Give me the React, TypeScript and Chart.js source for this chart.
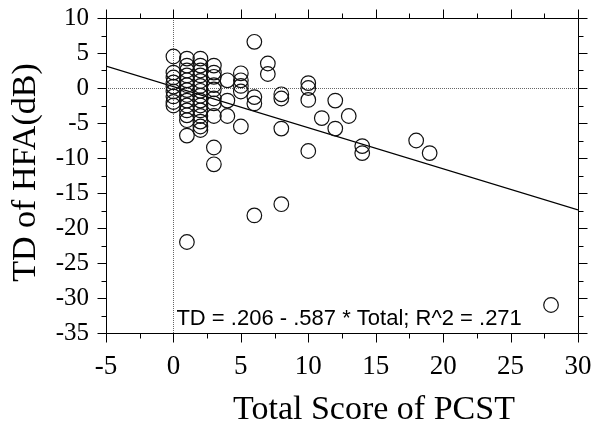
import React, { useEffect, useRef } from "react";
import { Chart, registerables } from "chart.js";

Chart.register(...registerables);

// PCST total score levels and the TD (dB) values observed at each level
const scoreLevels = [0, 1, 2, 3, 4, 5, 6, 7, 8, 10, 11, 12, 13, 14, 18, 19, 28];
const tdAtScore = [
  [4.5, 2.2, 1.5, 0.8, 0.2, -0.5, -1.2, -2, -2.5],
  [4.2, 3.2, 2.5, 1.8, 1.1, 0.4, -0.3, -1, -1.8, -2.5, -3.2, -3.9, -4.6, -6.8, -22],
  [4.2, 3.2, 2.5, 1.8, 1, 0.3, -0.4, -1.1, -1.8, -2.5, -3.2, -4, -4.8, -5.5, -6],
  [3.2, 2.2, 1.6, 0.4, -0.2, -1.5, -2.2, -4, -8.5, -10.9],
  [1.1, -1.8, -4],
  [2.1, 1.1, 0.3, -0.5, -5.5],
  [6.6, -1.3, -2.2, -18.2],
  [3.5, 2],
  [-0.9, -1.5, -5.8, -16.6],
  [0.7, 0, -1.7, -9],
  [-4.3],
  [-1.8, -5.8],
  [-4],
  [-8.3, -9.3],
  [-7.5],
  [-9.3],
  [-31],
];

// regression from the printed equation
const intercept = 0.206;
const slope = -0.587;
const fitRange = [-5, 30];

const xRange = [-5, 30];
const yRange = [-35, 10];
const majorStep = 5;
const minorStep = 2.5;

const equationText = "TD = .206 - .587 * Total; R^2 = .271";
const xTitle = "Total Score of PCST";
const yTitle = "TD of HFA(dB)";

const serif = '"Liberation Serif", "Times New Roman", serif';
const sans = '"Liberation Sans", Arial, sans-serif';

const framePlugin = {
  id: "frameTicks",
  afterDraw(chart: any) {
    const { ctx, chartArea, scales } = chart;
    const { left, right, top, bottom } = chartArea;
    const xs = scales.x;
    const ys = scales.y;
    ctx.save();
    ctx.strokeStyle = "#000";
    ctx.lineWidth = 1;
    ctx.setLineDash([]);
    const L = Math.round(left) + 0.5;
    const R = Math.round(right) + 0.5;
    const T = Math.round(top) + 0.5;
    const B = Math.round(bottom) + 0.5;
    ctx.beginPath();
    ctx.rect(L, T, R - L, B - T);
    ctx.stroke();
    ctx.beginPath();
    for (let v = xs.min; v <= xs.max + 1e-9; v += minorStep) {
      const px = Math.round(xs.getPixelForValue(v)) + 0.5;
      const len = Math.abs(v % majorStep) < 1e-9 ? 9 : 5;
      ctx.moveTo(px, B);
      ctx.lineTo(px, B + len);
      ctx.moveTo(px, T);
      ctx.lineTo(px, T - len);
    }
    for (let v = ys.min; v <= ys.max + 1e-9; v += minorStep) {
      const py = Math.round(ys.getPixelForValue(v)) + 0.5;
      const len = Math.abs(v % majorStep) < 1e-9 ? 9 : 5;
      ctx.moveTo(L, py);
      ctx.lineTo(L - len, py);
      ctx.moveTo(R, py);
      ctx.lineTo(R + len, py);
    }
    ctx.stroke();

    ctx.fillStyle = "#000";
    ctx.font = `22px ${sans}`;
    ctx.textAlign = "left";
    ctx.textBaseline = "alphabetic";
    ctx.fillText(equationText, xs.getPixelForValue(0) + 3, bottom - 8);

    ctx.font = `34px ${serif}`;
    ctx.textAlign = "center";
    ctx.fillText(xTitle, (left + right) / 2 + 32, 419);

    ctx.translate(35, (top + bottom) / 2 - 3);
    ctx.rotate(-Math.PI / 2);
    ctx.fillText(yTitle, 0, 0);
    ctx.restore();
  },
};

const zeroPadding = (scale: any) => {
  scale.paddingTop = 0;
  scale.paddingBottom = 0;
  scale.paddingLeft = 0;
  scale.paddingRight = 0;
};

export default function App() {
  const canvasRef = useRef<HTMLCanvasElement | null>(null);

  useEffect(() => {
    if (!canvasRef.current) return;
    const points: { x: number; y: number }[] = [];
    scoreLevels.forEach((s, i) => {
      tdAtScore[i].forEach((td) => points.push({ x: s, y: td }));
    });
    const fitLine = fitRange.map((x) => ({ x, y: intercept + slope * x }));

    const chart = new Chart(canvasRef.current, {
      type: "scatter",
      data: {
        datasets: [
          {
            label: "TD",
            data: points,
            pointStyle: "circle",
            pointRadius: 7.3,
            pointBorderWidth: 1.2,
            borderColor: "#111",
            backgroundColor: "rgba(0,0,0,0)",
            showLine: false,
          },
          {
            label: "fit",
            type: "line",
            data: fitLine,
            borderColor: "#000",
            borderWidth: 1.2,
            pointRadius: 0,
            fill: false,
          } as any,
        ],
      },
      plugins: [framePlugin],
      options: {
        animation: false,
        responsive: false,
        devicePixelRatio: 1,
        layout: { padding: { top: 18, right: 17, left: 0, bottom: 0 } },
        plugins: {
          legend: { display: false },
          tooltip: { enabled: false },
        },
        scales: {
          x: {
            type: "linear",
            min: xRange[0],
            max: xRange[1],
            afterFit: (scale: any) => {
              scale.height = 93;
              zeroPadding(scale);
            },
            ticks: {
              stepSize: majorStep,
              padding: 18,
              color: "#000",
              font: { family: serif, size: 27 },
              maxRotation: 0,
            },
            grid: {
              drawTicks: false,
              color: (c: any) => (c.tick && c.tick.value === 0 ? "#666" : "rgba(0,0,0,0)"),
              lineWidth: 1,
            },
            border: { display: false, dash: [1, 1] },
          },
          y: {
            type: "linear",
            min: yRange[0],
            max: yRange[1],
            afterFit: (scale: any) => {
              scale.width = 106;
              zeroPadding(scale);
            },
            ticks: {
              stepSize: majorStep,
              padding: 17,
              color: "#000",
              font: { family: serif, size: 25 },
            },
            grid: {
              drawTicks: false,
              color: (c: any) => (c.tick && c.tick.value === 0 ? "#666" : "rgba(0,0,0,0)"),
              lineWidth: 1,
            },
            border: { display: false, dash: [1, 1] },
          },
        },
      },
    });
    return () => chart.destroy();
  }, []);

  return (
    <div style={{ position: "absolute", left: 0, top: 0, width: 595, height: 426, background: "#fff" }}>
      <canvas ref={canvasRef} width={595} height={426} />
    </div>
  );
}
